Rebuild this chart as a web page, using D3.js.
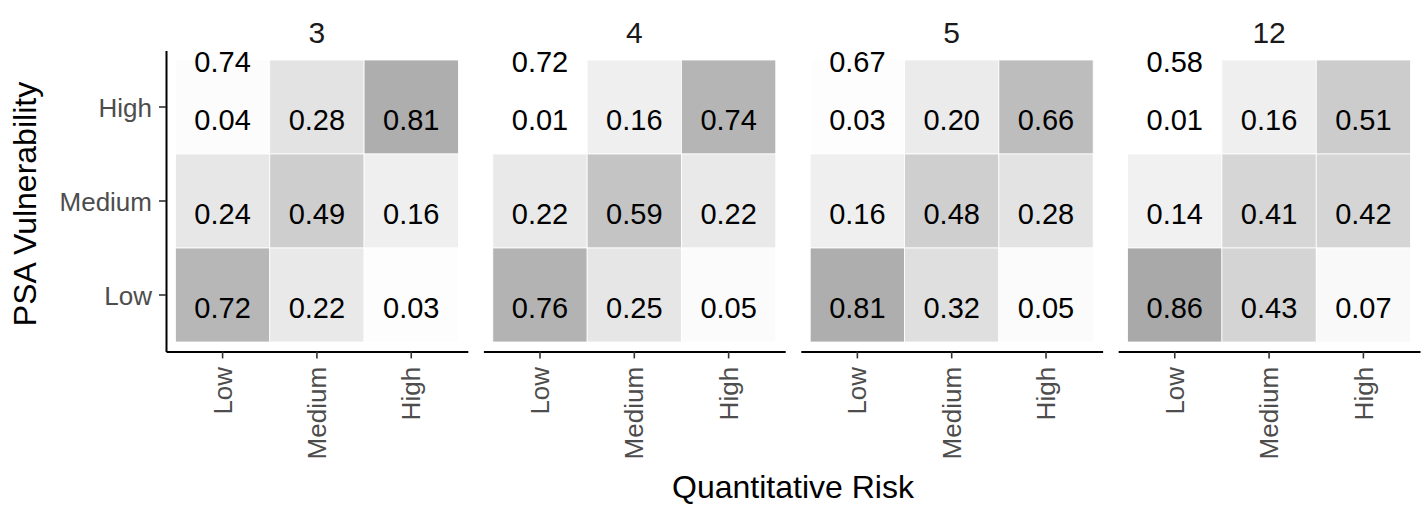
<!DOCTYPE html>
<html>
<head>
<meta charset="utf-8">
<script src="https://cdn.jsdelivr.net/npm/d3@7"></script>
<style>
  body { margin: 0; background: #fff; }
  text { font-family: "Liberation Sans", Arial, sans-serif; }
</style>
</head>
<body>
<div class="chart"></div>
<script>
var width = 1424, height = 505;
var padding = { top: 50.6, right: 4, bottom: 153.6, left: 166 };

// facets, categories and values (rows = PSA Vulnerability, cols = Quantitative Risk)
var facets = ['3', '4', '5', '12'];
var riskLevels = ['Low', 'Medium', 'High'];
var vulnLevels = ['High', 'Medium', 'Low'];
var overall = [0.74, 0.72, 0.67, 0.58];
// each facet: [High row], [Medium row], [Low row], columns Low, Medium, High
var values3 = [[0.04, 0.28, 0.81], [0.24, 0.49, 0.16], [0.72, 0.22, 0.03]];
var values4 = [[0.01, 0.16, 0.74], [0.22, 0.59, 0.22], [0.76, 0.25, 0.05]];
var values5 = [[0.03, 0.20, 0.66], [0.16, 0.48, 0.28], [0.81, 0.32, 0.05]];
var values12 = [[0.01, 0.16, 0.51], [0.14, 0.41, 0.42], [0.86, 0.43, 0.07]];
var facetValues = [values3, values4, values5, values12];

var svg = d3.select(".chart")
	.append("svg")
	.attr("width", width + "px")
	.attr("height", height + "px");

// flatten to one record per tile
var data = [];
facets.forEach(function(f, fi){
	vulnLevels.forEach(function(v, vi){
		riskLevels.forEach(function(r, ri){
			data.push({ facet: f, vuln: v, risk: r, value: facetValues[fi][vi][ri] });
		});
	});
});

// facet panels side by side
var facet_scale = d3.scaleBand()
	.domain(facets)
	.range([padding.left, width - padding.right])
	.paddingInner(0.049)
	.paddingOuter(0);

var pw = facet_scale.bandwidth();
var panelBottom = height - padding.bottom;

var x_scale = d3.scaleBand()
	.domain(riskLevels)
	.range([0, pw])
	.paddingOuter(0.1);

var y_scale = d3.scaleBand()
	.domain(vulnLevels)
	.range([padding.top, panelBottom])
	.paddingOuter(0.1);

var color_scale = d3.scaleLinear()
	.domain(d3.extent(data, function(d){ return d.value; }))
	.range(["#ffffff", "#a9a9a9"])
	.interpolate(d3.interpolateLab);

var panels = svg.selectAll(".panel")
	.data(facets)
	.enter()
	.append("g")
	.attr("class", "panel")
	.attr("transform", function(d){ return 'translate(' + facet_scale(d) + ',0)'; });

// tiles
panels.selectAll("rect")
	.data(function(f){ return data.filter(function(d){ return d.facet == f; }); })
	.enter()
	.append("rect")
	.attr("x", function(d){ return x_scale(d.risk); })
	.attr("y", function(d){ return y_scale(d.vuln); })
	.attr("width", x_scale.bandwidth())
	.attr("height", y_scale.bandwidth())
	.attr("fill", function(d){ return color_scale(d.value); })
	.attr("stroke", "#fff")
	.attr("stroke-width", 0.8);

// tile values
panels.selectAll(".val")
	.data(function(f){ return data.filter(function(d){ return d.facet == f; }); })
	.enter()
	.append("text")
	.attr("class", "val")
	.attr("x", function(d){ return x_scale(d.risk) + x_scale.bandwidth() / 2; })
	.attr("y", function(d){ return y_scale(d.vuln) + y_scale.bandwidth() / 2; })
	.attr("dy", "0.8em")
	.attr("text-anchor", "middle")
	.style("font-size", "29px")
	.attr("fill", "#000")
	.text(function(d){ return d3.format(".2f")(d.value); });

// overall value at top-left
panels.append("text")
	.attr("x", x_scale('Low') + x_scale.bandwidth() / 2)
	.attr("y", y_scale('High'))
	.attr("dy", "0.43em")
	.attr("text-anchor", "middle")
	.style("font-size", "29px")
	.attr("fill", "#000")
	.text(function(d, i){ return d3.format(".2f")(overall[i]); });

// strip labels
panels.append("text")
	.attr("x", pw / 2)
	.attr("y", 43)
	.attr("text-anchor", "middle")
	.style("font-size", "30px")
	.attr("fill", "#1a1a1a")
	.text(function(d){ return d; });

// x axes
panels.append("g")
	.attr("class", "x-axis")
	.attr("transform", 'translate(0,' + panelBottom + ')')
	.each(function(){
		d3.select(this).call(d3.axisBottom(x_scale).tickSize(7).tickSizeOuter(0));
	});

d3.selectAll(".x-axis .domain").attr("stroke", "#000").attr("stroke-width", 2);
d3.selectAll(".x-axis .tick line").attr("stroke", "#333").attr("stroke-width", 1.6);
d3.selectAll(".x-axis .tick text")
	.attr("transform", "rotate(-90)")
	.attr("x", -15.5)
	.attr("y", 0)
	.attr("dy", "0.35em")
	.attr("text-anchor", "end")
	.attr("fill", "#4d4d4d")
	.style("font-size", "26px")
	.style("font-family", "Liberation Sans, Arial, sans-serif");

// y axis on first panel only
svg.append("g")
	.attr("class", "y-axis")
	.attr("transform", 'translate(' + padding.left + ',0)')
	.call(d3.axisLeft(y_scale).tickSize(7).tickPadding(7).tickSizeOuter(0));

d3.selectAll(".y-axis .domain").attr("stroke", "#000").attr("stroke-width", 2);
d3.selectAll(".y-axis .tick line").attr("stroke", "#333").attr("stroke-width", 1.6);
d3.selectAll(".y-axis .tick text")
	.attr("dy", "0.39em")
	.attr("fill", "#4d4d4d")
	.style("font-size", "26px")
	.style("font-family", "Liberation Sans, Arial, sans-serif");

// axis titles
svg.append("text")
	.attr("x", (padding.left + width - padding.right) / 2)
	.attr("y", 498)
	.attr("text-anchor", "middle")
	.style("font-size", "32px")
	.attr("fill", "#000")
	.text("Quantitative Risk");

svg.append("text")
	.attr("transform", 'translate(36,' + 204 + ') rotate(-90)')
	.attr("text-anchor", "middle")
	.style("font-size", "32px")
	.attr("fill", "#000")
	.text("PSA Vulnerability");
</script>
</body>
</html>
